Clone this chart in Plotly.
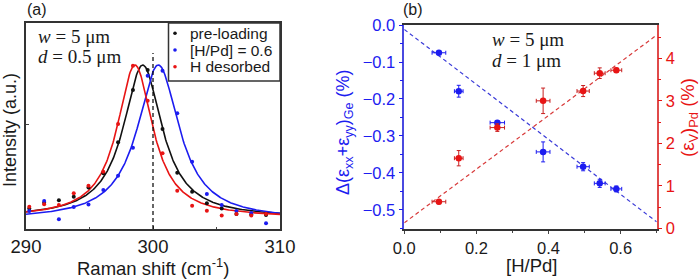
import numpy as np
import plotly.graph_objects as go

# ---------------- Panel (a) data ----------------
raman_shift = [290.26, 291.43, 292.59, 293.76, 294.92, 296.09, 297.25, 298.42, 299.58,
               300.75, 301.91, 303.08, 304.24, 305.41, 306.57, 307.74, 308.90]
pre_loading = [0.100, 0.127, 0.140, 0.156, 0.202, 0.271, 0.421, 0.675, 0.772,
               0.485, 0.273, 0.181, 0.125, 0.100, 0.073, 0.070, 0.068]
h_loaded = [0.087, 0.136, 0.047, 0.107, 0.119, 0.189, 0.258, 0.395, 0.744,
            0.768, 0.562, 0.327, 0.170, 0.117, 0.087, 0.078, 0.028]
h_desorbed = [0.108, 0.120, 0.117, 0.173, 0.210, 0.278, 0.510, 0.793, 0.623,
              0.368, 0.186, 0.113, 0.089, 0.065, 0.073, 0.065, 0.073]
series_names = ["pre-loading", "[H/Pd] = 0.6", "H desorbed"]
# Lorentzian fit parameters (center, HWHM, amplitude, baseline)
fit_center = [299.19, 300.42, 298.58]
fit_hwhm = [1.85, 2.0, 1.7]
fit_amp = [0.741, 0.751, 0.741]
fit_base = [0.055, 0.045, 0.055]

# ---------------- Panel (b) data ----------------
h_pd = [0.096, 0.151, 0.258, 0.385, 0.496, 0.542, 0.588]
h_pd_err = [0.019, 0.012, 0.02, 0.019, 0.017, 0.015, 0.015]
strain_ge = [-0.075, -0.179, -0.264, -0.343, -0.383, -0.428, -0.443]
strain_ge_err = [0.004, 0.016, 0.005, 0.027, 0.011, 0.011, 0.008]
strain_pd = [0.626, 1.65, 2.37, 3.0, 3.23, 3.65, 3.72]
strain_pd_err = [0.05, 0.18, 0.09, 0.30, 0.13, 0.125, 0.05]
# linear guide lines (intercept, slope)
ge_line = [-0.012, -0.743]
pd_line = [0.13, 6.31]

BLUE = "#1c1cf0"
RED = "#e81414"
BLK = "#111111"
cols_a = [BLK, BLUE, RED]
data_a = [pre_loading, h_loaded, h_desorbed]

W, H = 700, 280
def px(x): return x / W
def py(y): return 1 - y / H

fig = go.Figure()

xfit = np.linspace(290, 310, 401)
for i in range(3):
    yfit = fit_base[i] + fit_amp[i] / (1 + ((xfit - fit_center[i]) / fit_hwhm[i]) ** 2)
    fig.add_trace(go.Scatter(x=xfit, y=yfit, mode="lines", xaxis="x", yaxis="y",
                             line=dict(color=cols_a[i], width=1.6), showlegend=False,
                             hoverinfo="skip"))
for i in range(3):
    fig.add_trace(go.Scatter(x=raman_shift, y=data_a[i], mode="markers", xaxis="x", yaxis="y",
                             marker=dict(color=cols_a[i], size=4), name=series_names[i],
                             showlegend=False))

# panel b guide lines
xl = np.array([0.0, 0.7])
fig.add_trace(go.Scatter(x=xl, y=ge_line[0] + ge_line[1] * xl, mode="lines", xaxis="x2", yaxis="y2",
                         line=dict(color="#3a3ad8", width=1.2, dash="4px,3px"), showlegend=False))
fig.add_trace(go.Scatter(x=xl, y=pd_line[0] + pd_line[1] * xl, mode="lines", xaxis="x2", yaxis="y3",
                         line=dict(color="#d83a3a", width=1.2, dash="4px,3px"), showlegend=False))
fig.add_trace(go.Scatter(x=h_pd, y=strain_ge, mode="markers", xaxis="x2", yaxis="y2",
                         marker=dict(color=BLUE, size=6.5),
                         error_x=dict(type="data", array=h_pd_err, color=BLUE, thickness=1, width=2),
                         error_y=dict(type="data", array=strain_ge_err, color=BLUE, thickness=1, width=2),
                         showlegend=False))
fig.add_trace(go.Scatter(x=h_pd, y=strain_pd, mode="markers", xaxis="x2", yaxis="y3",
                         marker=dict(color=RED, size=6.5),
                         error_x=dict(type="data", array=h_pd_err, color="#c82020", thickness=1, width=2),
                         error_y=dict(type="data", array=strain_pd_err, color="#c82020", thickness=1, width=2),
                         showlegend=False))

FONT = "Liberation Sans, Arial, sans-serif"
SERIF = "Liberation Serif, Times New Roman, serif"
tickfont = dict(family=FONT, size=18.5, color="#1a1a1a")
tickfont_b = dict(family=FONT, size=16.5, color="#1a1a1a")

shapes = [
    dict(type="line", xref="x", yref="y", x0=300, x1=300, y0=0, y1=0.854,
         line=dict(color="black", width=1.2, dash="4px,3px")),
    dict(type="rect", xref="paper", yref="paper", x0=px(168.5), x1=px(280), y0=py(81), y1=py(23),
         fillcolor="white", line=dict(color="#333", width=1.5)),
]
for i, yy in enumerate([33.3, 50, 66.7]):
    r = 1.8
    shapes.append(dict(type="circle", xref="paper", yref="paper", x0=px(175 - r), x1=px(175 + r),
                       y0=py(yy + r), y1=py(yy - r), fillcolor=cols_a[i], line=dict(width=0)))

annotations = []
def ann(text, x, y, size=18.5, color="#1a1a1a", angle=0, family=FONT, xanchor="center"):
    annotations.append(dict(text=text, x=px(x), y=py(y), xref="paper", yref="paper", showarrow=False,
                            textangle=angle, xanchor=xanchor, yanchor="middle",
                            font=dict(family=family, size=size, color=color)))

for i, (t, yy) in enumerate(zip(series_names, [33.3, 50, 66.7])):
    ann(t, 188, yy, size=15.5, xanchor="left")
ann("(a)", 37, 9, size=16)
ann("(b)", 413, 9, size=16)
ann("Intensity (a.u.)", 10, 130, size=18, angle=-90)
ann("Raman shift (cm<sup>-1</sup>)", 153, 267)
ann("[H/Pd]", 531, 265)
ann("Δ(ε<sub>xx</sub>+ε<sub>yy</sub>)<sub>Ge</sub> (%)", 344, 132, size=18, angle=-90, color=BLUE)
ann("(ε<sub>V</sub>)<sub>Pd</sub> (%)", 689, 118, size=18.5, angle=-90, color=RED)
ann("<i>w</i> = 5 μm", 36, 37, size=19, family=SERIF, xanchor="left")
ann("<i>d</i> = 0.5 μm", 36, 57, size=19, family=SERIF, xanchor="left")
ann("<i>w</i> = 5 μm", 490, 40, size=19, family=SERIF, xanchor="left")
ann("<i>d</i> = 1 μm", 490, 60, size=19, family=SERIF, xanchor="left")

fig.update_layout(
    width=W, height=H, margin=dict(l=0, r=0, t=0, b=0),
    paper_bgcolor="white", plot_bgcolor="white", showlegend=False,
    xaxis=dict(domain=[px(26), px(280)], range=[290, 310], anchor="y",
               tickvals=[290, 300, 310], ticks="inside", ticklen=3, tickwidth=1.2,
               minor=dict(tickvals=[295, 305], ticks="inside", ticklen=2),
               showline=True, mirror=True, linecolor="#333", linewidth=1.5,
               showgrid=False, zeroline=False, tickfont=tickfont, automargin=False),
    yaxis=dict(domain=[py(229), py(23)], range=[0, 1], anchor="x",
               tickvals=[0.505], ticks="inside", ticklen=3, showticklabels=False,
               showline=True, mirror=True, linecolor="#333", linewidth=1.5,
               showgrid=False, zeroline=False, automargin=False),
    xaxis2=dict(domain=[px(404.3), px(656.7)], range=[0, 0.7], anchor="y2",
                tickvals=[0, 0.2, 0.4, 0.6], ticktext=["0.0", "0.2", "0.4", "0.6"],
                ticks="outside", ticklen=3, tickwidth=1.2,
                minor=dict(tickvals=[0.1, 0.3, 0.5, 0.7], ticks="outside", ticklen=2),
                showline=True, mirror=True, linecolor="#333", linewidth=1.5,
                showgrid=False, zeroline=False, tickfont=tickfont_b, automargin=False),
    yaxis2=dict(domain=[py(229), py(25)], range=[-0.5514, 0], anchor="x2", side="left",
                tickvals=[0, -0.1, -0.2, -0.3, -0.4, -0.5],
                ticktext=["0.0", "−0.1", "−0.2", "−0.3", "−0.4", "−0.5"],
                ticks="outside", ticklen=4, tickwidth=1.2, tickcolor=BLUE,
                minor=dict(tickvals=[-0.05, -0.15, -0.25, -0.35, -0.45, -0.55], ticks="outside",
                           ticklen=3, tickcolor=BLUE),
                showline=True, linecolor="#4a4ae0", linewidth=1.5,
                showgrid=False, zeroline=False,
                tickfont=dict(family=FONT, size=16.5, color=BLUE), automargin=False),
    yaxis3=dict(domain=[py(229), py(25)], range=[-0.016, 4.784], anchor="x2", overlaying="y2",
                side="right", tickvals=[0, 1, 2, 3, 4],
                ticks="outside", ticklen=4, tickwidth=1.2, tickcolor=RED,
                minor=dict(tickvals=[0.5, 1.5, 2.5, 3.5, 4.5], ticks="outside", ticklen=3, tickcolor=RED),
                showline=True, linecolor="#e04a4a", linewidth=1.5,
                showgrid=False, zeroline=False,
                tickfont=dict(family=FONT, size=16.5, color=RED), automargin=False),
    shapes=shapes, annotations=annotations,
)

fig.write_html("out.html", config={"displayModeBar": False},
               post_script="document.body.style.margin='0';document.body.style.overflow='hidden';")
